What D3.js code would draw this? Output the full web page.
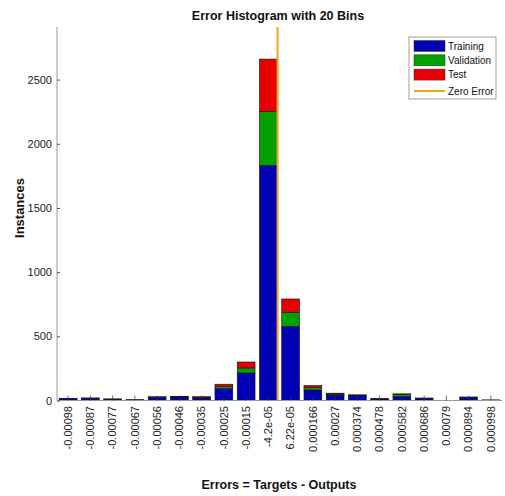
<!DOCTYPE html>
<html>
<head>
<meta charset="utf-8">
<script src="https://cdn.jsdelivr.net/npm/d3@7"></script>
<style>
  body { margin: 0; background: #fff; }
  svg { display: block; font-family: "Liberation Sans", Arial, sans-serif; }
</style>
</head>
<body>
<svg id="chart" width="505" height="496"></svg>
<script>
// Bin labels (bin centres) of the error histogram
const binLabels = ["-0.00098","-0.00087","-0.00077","-0.00067","-0.00056","-0.00046","-0.00035","-0.00025","-0.00015","-4.2e-05","6.22e-05","0.000166","0.00027","0.000374","0.000478","0.000582","0.000686","0.00079","0.000894","0.000998"];
// Instances per bin for each data split
const training   = [15, 16, 10, 5, 24, 28, 19, 92, 215, 1832, 577, 82, 42, 40, 12, 30, 16, 1, 24, 5];
const validation = [1, 2, 1, 0, 3, 2, 3, 17, 39, 419, 109, 18, 8, 2, 1, 17, 2, 0, 2, 0];
const test       = [1, 2, 1, 1, 2, 2, 8, 18, 46, 409, 105, 17, 7, 2, 1, 5, 1, 0, 1, 0];
const yTicks = [0, 500, 1000, 1500, 2000, 2500];
const zeroError = 0;

const seriesNames = ["Training", "Validation", "Test"];
const seriesColors = { Training: "#0000b4", Validation: "#00a000", Test: "#e60000" };
const zeroColor = "#f7a21b";

const svg = d3.select("#chart");
const plotLeft = 57, plotRight = 502, plotTop = 27, plotBottom = 400.5;

const x = d3.scaleBand().domain(binLabels).range([plotLeft, plotRight]).paddingInner(0.2).paddingOuter(0.1);
const y = d3.scaleLinear().domain([0, 2910]).range([plotBottom, plotTop]);

// Continuous error axis mapped through the bin centres, used for the zero line
const centres = binLabels.map(Number);
const xErr = d3.scaleLinear()
  .domain([centres[0], centres[centres.length - 1]])
  .range([x(binLabels[0]) + x.bandwidth() / 2, x(binLabels[binLabels.length - 1]) + x.bandwidth() / 2]);

const table = binLabels.map((b, i) => ({ bin: b, Training: training[i], Validation: validation[i], Test: test[i] }));
const stacked = d3.stack().keys(seriesNames)(table);

// Stacked bars
svg.append("g").selectAll("g")
  .data(stacked).join("g")
  .attr("fill", d => seriesColors[d.key])
  .selectAll("rect")
  .data(d => d).join("rect")
  .attr("x", d => x(d.data.bin))
  .attr("width", x.bandwidth())
  .attr("y", d => y(d[1]))
  .attr("height", d => y(d[0]) - y(d[1]))
  .attr("stroke", "#111")
  .attr("stroke-width", 0.6);

// Axes (inward ticks, no box)
const xAxis = svg.append("g").attr("transform", `translate(0,${plotBottom})`)
  .call(d3.axisBottom(x).tickSize(-5).tickSizeOuter(0).tickFormat(""));
xAxis.select(".domain").attr("stroke", "#999").attr("d", `M${plotLeft},0H${plotRight}`);
xAxis.selectAll(".tick line").attr("stroke", "#333").attr("stroke-width", 0.7);

svg.append("g").selectAll("text")
  .data(binLabels).join("text")
  .attr("transform", d => `translate(${x(d) + x.bandwidth() / 2},406) rotate(-90)`)
  .attr("text-anchor", "end")
  .attr("dy", "0.35em")
  .attr("font-size", 11)
  .attr("fill", "#222")
  .text(d => d);

const yAxis = svg.append("g").attr("transform", `translate(${plotLeft},0)`)
  .call(d3.axisLeft(y).tickValues(yTicks).tickFormat(d3.format("d")).tickSize(-3).tickSizeOuter(0).tickPadding(5));
yAxis.select(".domain").attr("stroke", "#999").attr("d", `M0,${plotTop}V${plotBottom}`);
yAxis.selectAll(".tick line").attr("stroke", "#555");
yAxis.selectAll(".tick text").attr("font-size", 11).attr("fill", "#222").attr("font-family", "Liberation Sans, Arial, sans-serif");

// Zero error line
svg.append("line")
  .attr("x1", xErr(zeroError)).attr("x2", xErr(zeroError))
  .attr("y1", plotTop).attr("y2", plotBottom)
  .attr("stroke", zeroColor).attr("stroke-width", 2);

// Titles
svg.append("text").attr("x", 278).attr("y", 20).attr("text-anchor", "middle")
  .attr("font-size", 12.5).attr("font-weight", "bold").attr("fill", "#111")
  .text("Error Histogram with 20 Bins");
svg.append("text").attr("x", 279).attr("y", 489).attr("text-anchor", "middle")
  .attr("font-size", 12.5).attr("font-weight", "bold").attr("fill", "#111")
  .text("Errors = Targets - Outputs");
svg.append("text").attr("transform", "translate(24,208) rotate(-90)").attr("text-anchor", "middle")
  .attr("font-size", 13).attr("font-weight", "bold").attr("fill", "#111")
  .text("Instances");

// Legend
const lg = svg.append("g").attr("transform", "translate(409,37)");
lg.append("rect").attr("width", 87).attr("height", 62).attr("fill", "#fff").attr("stroke", "#888").attr("stroke-width", 0.8);
seriesNames.forEach((name, i) => {
  const ry = 3.5 + i * 14.3;
  lg.append("rect").attr("x", 5).attr("y", ry).attr("width", 31).attr("height", 11)
    .attr("fill", seriesColors[name]).attr("stroke", "#333").attr("stroke-width", 0.5);
  lg.append("text").attr("x", 39).attr("y", ry + 5.5).attr("dy", "0.35em")
    .attr("font-size", 10).attr("fill", "#111").text(name);
});
lg.append("line").attr("x1", 5).attr("x2", 36).attr("y1", 54).attr("y2", 54)
  .attr("stroke", zeroColor).attr("stroke-width", 2);
lg.append("text").attr("x", 39).attr("y", 54).attr("dy", "0.35em")
  .attr("font-size", 10).attr("fill", "#111").text("Zero Error");
</script>
</body>
</html>
